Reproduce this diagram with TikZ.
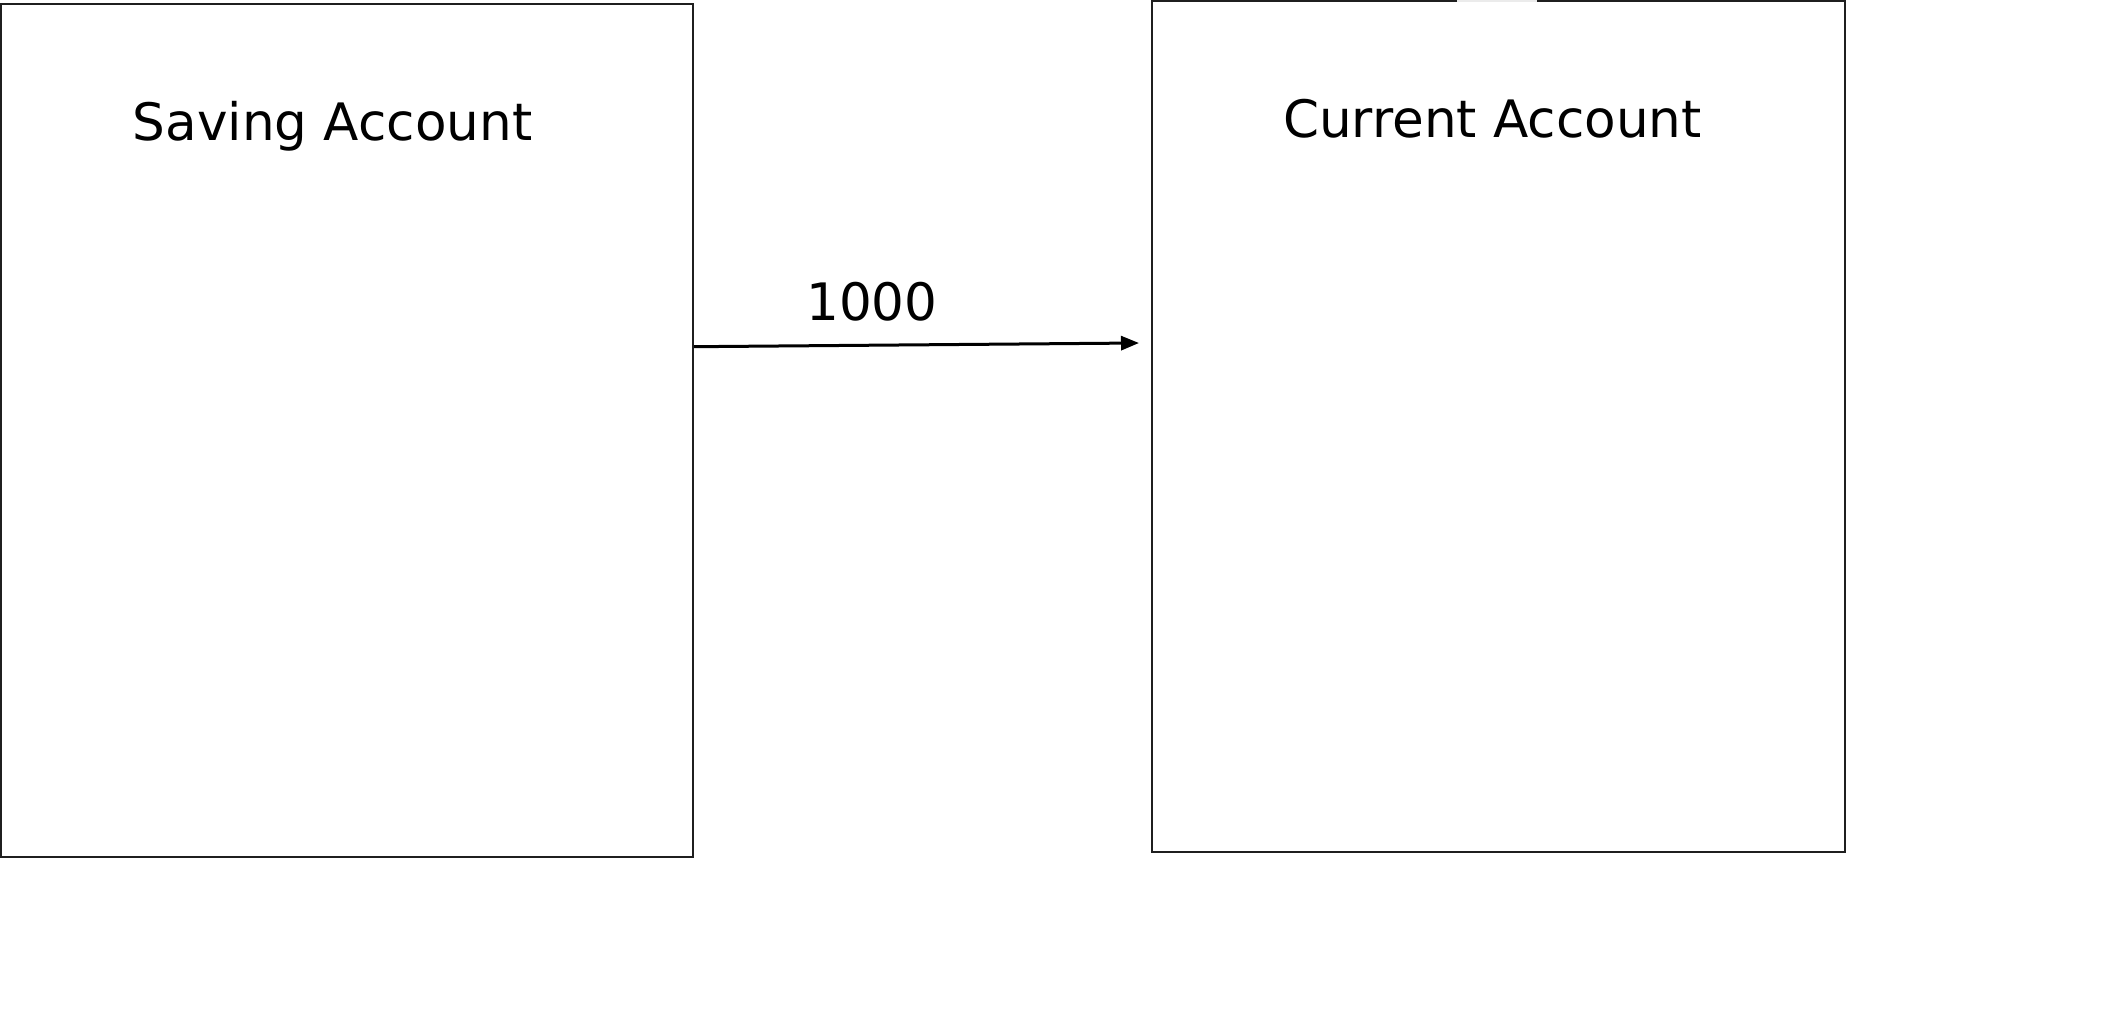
\documentclass[tikz,border=0pt]{standalone}
\usepackage{fontspec}
\setmainfont{DejaVu Sans}
\usetikzlibrary{arrows.meta}
\begin{document}
\begin{tikzpicture}[x=1pt,y=-1pt,
  acct/.style={draw=black!88,line width=2pt,inner sep=0pt,rectangle},
  title/.style={anchor=base,inner sep=0pt,font=\fontsize{51.6}{62}\selectfont},
  flow/.style={line width=3pt,-{Triangle[length=18pt,width=14pt]}}]
\useasboundingbox (0,0) rectangle (2112,1017);
\node[acct,minimum width=692pt,minimum height=853pt] (sav) at (347,430.5) {};
\node[acct,minimum width=693.5pt,minimum height=851pt] (cur) at (1498.25,426.5) {};
\draw[black!8,line width=2pt] (1457,1) -- (1537,1);
\node[title] (savt) at (332.5,140.5) {Saving Account};
\node[title] (curt) at (1492.5,137) {Current Account};
\node[title] (amt) at (872,320.5) {1000};
\coordinate (tip) at (1139,343);
\draw[flow] ([yshift=83.8pt]sav.east) -- (tip);
\end{tikzpicture}
\end{document}
